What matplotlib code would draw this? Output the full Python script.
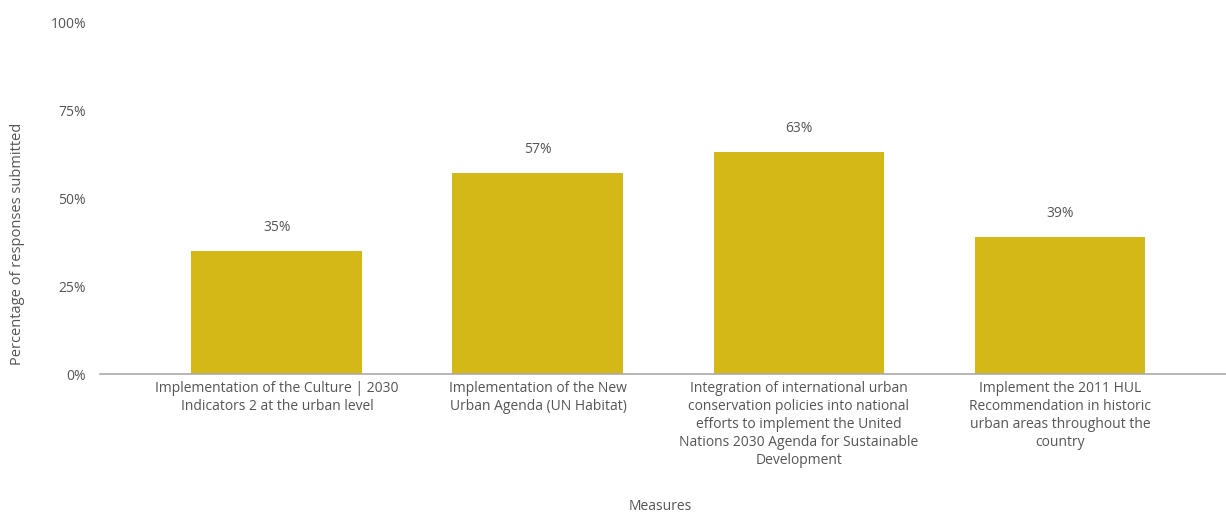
import matplotlib
matplotlib.use("Agg")
import matplotlib.pyplot as plt

categories = [
    "Implementation of the Culture | 2030\nIndicators 2 at the urban level",
    "Implementation of the New\nUrban Agenda (UN Habitat)",
    "Integration of international urban\nconservation policies into national\nefforts to implement the United\nNations 2030 Agenda for Sustainable\nDevelopment",
    "Implement the 2011 HUL\nRecommendation in historic\nurban areas throughout the\ncountry",
]
values = [35, 57, 63, 39]
yticks = [0, 25, 50, 75, 100]
ytick_labels = ["0%", "25%", "50%", "75%", "100%"]

plt.rcParams['font.family'] = ['Open Sans', 'DejaVu Sans']
text_color = "#555555"
bar_color = "#D4B816"

fig = plt.figure(figsize=(12.26, 5.14), dpi=100)
ax = fig.add_axes([100/1226, 1 - 374/514, 1126/1226, 352/514])

x = list(range(len(categories)))
bars = ax.bar(x, values, width=0.655, color=bar_color, zorder=2)
for xi, v in zip(x, values):
    ax.text(xi, v + 4.6, f"{v}%", ha="center", va="bottom", fontsize=10, color=text_color)

ax.set_xlim(-0.678, 3.636)
ax.set_ylim(0, 100)
ax.set_yticks(yticks)
ax.set_yticklabels(ytick_labels, fontsize=10, color=text_color)
ax.set_xticks(x)
ax.set_xticklabels(categories, fontsize=10, color=text_color, linespacing=1.28)
ax.tick_params(axis="both", length=0)
ax.tick_params(axis="y", pad=10)
ax.tick_params(axis="x", pad=5)
for s in ["top", "right", "left"]:
    ax.spines[s].set_visible(False)
ax.spines["bottom"].set_color("#aaaaaa")
ax.spines["bottom"].set_linewidth(1.2)

fig.text(660/1226, 1 - 507/514, "Measures", ha="center", va="center", fontsize=10, color=text_color)
fig.text(18/1226, 1 - 244/514, "Percentage of responses submitted", ha="center", va="center",
         rotation=90, fontsize=10.5, color=text_color)

fig.savefig("out.png", dpi=100, facecolor="white")
